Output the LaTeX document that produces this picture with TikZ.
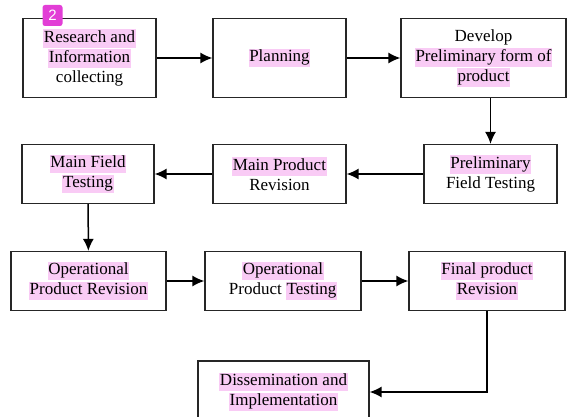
\documentclass[tikz,border=0pt]{standalone}
\usepackage{fontspec}
\setmainfont{Liberation Serif}
\newfontfamily\badgefont{Liberation Sans}
\usetikzlibrary{arrows.meta}
\definecolor{hlpink}{RGB}{249,203,245}
\definecolor{badgepink}{RGB}{226,62,214}
\newcommand{\hl}[1]{{\setlength{\fboxsep}{0.6pt}\colorbox{hlpink}{\vrule height 0.75em depth 0.28em width 0pt #1}}}
\tikzset{
  stage/.style={draw=black!85, line width=1.2pt, align=center, inner sep=0pt,
    font=\fontsize{17}{20}\selectfont},
  badge/.style={fill=badgepink, rounded corners=2.5pt, text=white, inner sep=0pt,
    minimum width=20pt, minimum height=21pt, font=\badgefont\fontsize{15}{15}\selectfont}
}

\begin{document}
\begin{tikzpicture}[>={Latex[length=12pt,width=11pt]},x=1pt,y=-1pt,line width=1.5pt]
\useasboundingbox (0,0) rectangle (567,417);
% first row
\node [stage,minimum width=133pt,minimum height=79pt] (research) at (89.5,58) {\hl{Research and}\\\hl{Information}\\collecting};
\node [stage,minimum width=133pt,minimum height=79pt] (planning) at (279.5,58) {\hl{Planning}};
\node [stage,minimum width=165pt,minimum height=79pt] (develop) at (483.5,58) {Develop\\\hl{Preliminary form of}\\\hl{product}};
% second row
\node [stage,minimum width=133pt,minimum height=59pt] (prelim) at (490.5,174) {\hl{Preliminary}\\Field Testing};
\node [stage,minimum width=133pt,minimum height=59pt] (mainrev) at (279.5,174) {\hl{Main Product}\\Revision};
\node [stage,minimum width=132pt,minimum height=59pt] (maintest) at (88,174) {\hl{Main Field}\\\hl{Testing}};
% third row
\node [stage,minimum width=155pt,minimum height=59pt] (oprev) at (88.5,281) {\hl{Operational}\\\hl{Product Revision}};
\node [stage,minimum width=156pt,minimum height=59pt] (optest) at (283,281) {\hl{Operational}\\Product \hl{Testing}};
\node [stage,minimum width=156pt,minimum height=59pt] (finalrev) at (487,281) {\hl{Final product}\\\hl{Revision}};
% last step
\node [stage,minimum width=171pt,minimum height=62pt] (dissem) at (283.5,392) {\hl{Dissemination and}\\\hl{Implementation}};
\node [badge] (num) at (52.5,15.5) {2};
% arrows
\draw [->] (research) -- (planning);
\draw [->] (planning) -- (develop);
\draw [->] (prelim.north |- develop.south) -- (prelim.north);
\draw [->] (prelim) -- (mainrev);
\draw [->] (mainrev) -- (maintest);
\draw [->] (maintest) -- (oprev);
\draw [->] (oprev) -- (optest);
\draw [->] (optest) -- (finalrev);
\draw [->] (finalrev.south) |- (dissem.east);
\end{tikzpicture}
\end{document}
